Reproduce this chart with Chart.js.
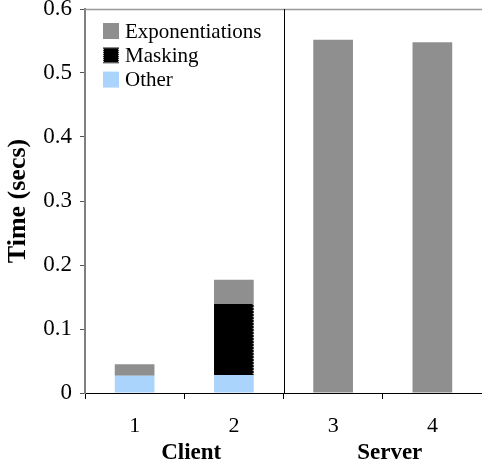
<!DOCTYPE html>
<html><head><meta charset="utf-8">
<script src="https://cdn.jsdelivr.net/npm/chart.js@4"></script>
<style>html,body{margin:0;padding:0;background:#fff}canvas{display:block}</style>
</head><body>
<canvas id="c" width="482" height="463"></canvas>
<script>
const categories = ['1', '2', '3', '4'];
const groups = ['Client', 'Server'];
const otherVals = [0.027, 0.028, 0, 0];
const maskingVals = [0, 0.111, 0, 0];
const expVals = [0.018, 0.038, 0.552, 0.548];
const yTicks = [0, 0.1, 0.2, 0.3, 0.4, 0.5, 0.6];

const FONT = '"Liberation Serif", "Times New Roman", serif';
const GREY = '#8f8f8f', BLUE = '#aad4fc';

const overlay = {
  id: 'overlay',
  afterDatasetsDraw(chart) {
    const ctx = chart.ctx, a = chart.chartArea, x = chart.scales.x;
    ctx.save();
    // dotted edge on masking bar
    const mEl = chart.getDatasetMeta(1).data[1];
    if (mEl) {
      const r = mEl.x + mEl.width / 2;
      ctx.strokeStyle = '#fff'; ctx.lineWidth = 1; ctx.setLineDash([1, 2]);
      ctx.beginPath(); ctx.moveTo(r - 0.5, mEl.y); ctx.lineTo(r - 0.5, mEl.base); ctx.stroke();
      ctx.setLineDash([]);
    }
    // top border line
    ctx.strokeStyle = '#999'; ctx.lineWidth = 1.5;
    ctx.beginPath(); ctx.moveTo(a.left, a.top + 0.5); ctx.lineTo(a.right, a.top + 0.5); ctx.stroke();
    // divider between client and server
    const mid = (x.getPixelForTick(1) + x.getPixelForTick(2)) / 2;
    ctx.strokeStyle = '#000'; ctx.lineWidth = 1;
    ctx.beginPath(); ctx.moveTo(Math.round(mid) + 0.5, a.top); ctx.lineTo(Math.round(mid) + 0.5, a.bottom); ctx.stroke();
    // legend (reverse order of stacking)
    const items = chart.data.datasets.slice().reverse();
    ctx.font = '21px ' + FONT; ctx.textBaseline = 'middle';
    items.forEach((d, i) => {
      const cy = 31 + i * 24.3;
      ctx.fillStyle = d.backgroundColor;
      ctx.fillRect(103, cy - 8, 16, 16);
      if (d.label === 'Masking') {
        ctx.strokeStyle = '#fff'; ctx.setLineDash([1, 1]); ctx.lineWidth = 1;
        ctx.strokeRect(103.5, cy - 7.5, 15, 15); ctx.setLineDash([]);
      }
      ctx.fillStyle = '#000';
      ctx.fillText(d.label, 125, cy + 1);
    });
    // group labels
    ctx.font = 'bold 23px ' + FONT; ctx.textAlign = 'center'; ctx.textBaseline = 'alphabetic';
    const g1 = (x.getPixelForTick(0) + x.getPixelForTick(1)) / 2;
    const g2 = (x.getPixelForTick(2) + x.getPixelForTick(3)) / 2;
    ctx.fillText(groups[0], g1 + 7, 459);
    ctx.fillText(groups[1], g2 + 7, 459);
    ctx.restore();
  }
};

new Chart(document.getElementById('c'), {
  type: 'bar',
  data: {
    labels: categories,
    datasets: [
      { label: 'Other', data: otherVals, backgroundColor: BLUE },
      { label: 'Masking', data: maskingVals, backgroundColor: '#000' },
      { label: 'Exponentiations', data: expVals, backgroundColor: GREY }
    ]
  },
  options: {
    responsive: false,
    animation: false,
    layout: { padding: { top: 9, right: 0, left: 0, bottom: 0 } },
    datasets: { bar: { barPercentage: 0.4, categoryPercentage: 1.0 } },
    plugins: { legend: { display: false }, tooltip: { enabled: false } },
    scales: {
      x: {
        stacked: true,
        offset: true,
        grid: { offset: true, drawOnChartArea: false, tickLength: 6, color: '#000', tickColor: '#000' },
        border: { color: '#000', width: 1 },
        ticks: { color: '#000', font: { family: FONT, size: 22 }, padding: 14 },
        afterFit(s) { s.height = 70; s.paddingLeft = 0; s.paddingRight = 0; }
      },
      y: {
        stacked: true,
        min: 0, max: 0.6,
        afterBuildTicks(s) { s.ticks = yTicks.map(v => ({ value: v })); },
        grid: { drawOnChartArea: false, tickLength: 5, color: '#555', tickColor: '#555' },
        border: { color: '#808080', width: 2 },
        ticks: { color: '#000', font: { family: FONT, size: 23 }, padding: 8,
          callback: v => (v === 0 ? '0' : v.toFixed(1)) },
        title: { display: true, text: 'Time (secs)', color: '#000', font: { family: FONT, size: 26, weight: 'bold' }, padding: { top: 3, bottom: 0 } },
        afterFit(s) { s.width = 85; s.paddingTop = 0; s.paddingBottom = 0; }
      }
    }
  },
  plugins: [overlay]
});
</script>
</body></html>
